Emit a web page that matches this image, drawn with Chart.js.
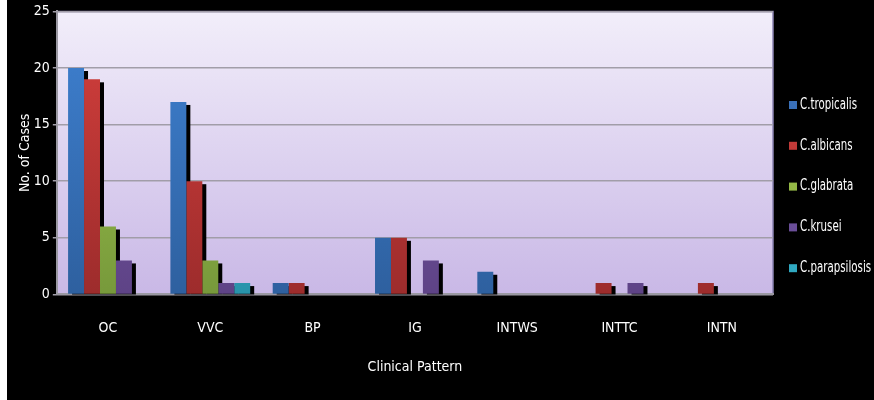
<!DOCTYPE html>
<html>
<head>
<meta charset="utf-8">
<script src="https://cdn.jsdelivr.net/npm/chart.js@4.4.1/dist/chart.umd.min.js"></script>
<style>
    html, body { margin: 0; padding: 0; background: #fff; }
    #wrap { position: absolute; left: 7px; top: 0; width: 867px; height: 400px; background: #000; }
</style>
</head>
<body>
<div id="wrap"><canvas id="patternChart"></canvas></div>
<script>
const FONT = "'Liberation Sans Narrow', 'DejaVu Sans Condensed', sans-serif";
Chart.defaults.color = '#ffffff';
Chart.defaults.font.family = FONT;
Chart.defaults.font.size = 14;

const clinicalPatterns = ['OC', 'VVC', 'BP', 'IG', 'INTWS', 'INTTC', 'INTN'];

const tropicalis = [20, 17, 1, 5, 2, 0, 0];
const albicans = [19, 10, 1, 5, 0, 1, 1];
const glabrata = [6, 3, 0, 0, 0, 0, 0];
const krusei = [3, 1, 0, 3, 0, 1, 0];
const parapsilosis = [0, 1, 0, 0, 0, 0, 0];

const yTicks = [0, 5, 10, 15, 20, 25];

// top / bottom shade of each species bar
const shades = [
    ['#3f82d3', '#2e609f'],
    ['#d6403d', '#9d2c2c'],
    ['#a8cf4f', '#77993b'],
    ['#7e5db0', '#5e4386'],
    ['#36bdd7', '#2893aa']
];
const legendColors = ['#3a70b8', '#c13a38', '#94b846', '#6a4e98', '#30a9c1'];

function barFill(top, bottom) {
    return (ctx) => {
        const area = ctx.chart.chartArea;
        if (!area) return bottom;
        const g = ctx.chart.ctx.createLinearGradient(0, area.top, 0, area.bottom);
        g.addColorStop(0, top);
        g.addColorStop(1, bottom);
        return g;
    };
}

// lavender plot background + frame
const plotBackground = {
    id: 'plotBackground',
    beforeDraw(chart) {
        const {ctx, chartArea: a} = chart;
        ctx.save();
        ctx.fillStyle = '#000';
        ctx.fillRect(0, 0, chart.width, chart.height);
        const g = ctx.createLinearGradient(0, a.top, 0, a.bottom);
        g.addColorStop(0, '#f2eefa');
        g.addColorStop(1, '#c9b8e6');
        ctx.fillStyle = g;
        ctx.fillRect(a.left, a.top, a.right - a.left, a.bottom - a.top);
        ctx.strokeStyle = '#8a82b2';
        ctx.lineWidth = 1.5;
        ctx.beginPath();
        ctx.moveTo(a.left, a.top);
        ctx.lineTo(a.right, a.top);
        ctx.lineTo(a.right, a.bottom);
        ctx.stroke();
        ctx.restore();
    }
};

// hard black drop shadow behind every bar
const barShadow = {
    id: 'barShadow',
    beforeDatasetsDraw(chart) {
        const {ctx, chartArea: a} = chart;
        ctx.save();
        ctx.beginPath();
        ctx.rect(a.left, a.top, a.right - a.left + 6, a.bottom - a.top);
        ctx.clip();
        ctx.fillStyle = '#000';
        chart.data.datasets.forEach((ds, i) => {
            chart.getDatasetMeta(i).data.forEach(bar => {
                const p = bar.getProps(['x', 'y', 'base', 'width'], true);
                if (p.base - p.y < 0.5) return;
                ctx.fillRect(p.x - p.width / 2 + 4, p.y + 3, p.width, p.base - p.y);
            });
        });
        ctx.restore();
    }
};

// species key on the right, narrow lettering
const sideLegend = {
    id: 'sideLegend',
    afterDraw(chart) {
        const {ctx, chartArea: a} = chart;
        ctx.save();
        ctx.font = '15px ' + FONT;
        ctx.textBaseline = 'middle';
        chart.data.datasets.forEach((ds, i) => {
            const y = 105 + i * 40.8;
            const x = a.right + 16;
            ctx.fillStyle = legendColors[i];
            ctx.fillRect(x, y - 4, 8, 8);
            ctx.save();
            ctx.translate(x + 11, y);
            ctx.scale(0.76, 1);
            ctx.fillStyle = '#ffffff';
            ctx.fillText(ds.label, 0, 0);
            ctx.restore();
        });
        ctx.restore();
    }
};

const series = [
    {label: 'C.tropicalis', data: tropicalis},
    {label: 'C.albicans', data: albicans},
    {label: 'C.glabrata', data: glabrata},
    {label: 'C.krusei', data: krusei},
    {label: 'C.parapsilosis', data: parapsilosis}
];

new Chart(document.getElementById('patternChart'), {
    type: 'bar',
    data: {
        labels: clinicalPatterns,
        datasets: series.map((s, i) => ({
            label: s.label,
            data: s.data,
            backgroundColor: barFill(shades[i][0], shades[i][1]),
            borderWidth: 0,
            categoryPercentage: 0.78,
            barPercentage: 1
        }))
    },
    options: {
        responsive: true,
        maintainAspectRatio: false,
        animation: false,
        layout: {
            padding: {top: 0, left: 0, right: 101, bottom: 24}
        },
        plugins: {
            legend: {display: false},
            tooltip: {enabled: true}
        },
        scales: {
            x: {
                z: 1,
                grid: {display: false},
                border: {display: true, color: '#9a98a2', width: 2},
                ticks: {color: '#ffffff', padding: 18, font: {size: 14}},
                title: {
                    display: true,
                    text: 'Clinical Pattern',
                    color: '#ffffff',
                    font: {size: 14},
                    padding: {top: 4, bottom: 0}
                }
            },
            y: {
                min: 0,
                max: 25,
                afterBuildTicks(scale) {
                    scale.ticks = yTicks.map(v => ({value: v}));
                },
                grid: {
                    color: '#a19da8',
                    lineWidth: 1.5,
                    tickLength: 4
                },
                border: {display: true, color: '#9a98a2', width: 2},
                ticks: {color: '#ffffff', padding: 3, font: {size: 14}},
                title: {
                    display: true,
                    text: 'No. of Cases',
                    color: '#ffffff',
                    font: {size: 14},
                    padding: {top: 10, bottom: -3}
                }
            }
        }
    },
    plugins: [plotBackground, barShadow, sideLegend]
});
</script>
</body>
</html>
